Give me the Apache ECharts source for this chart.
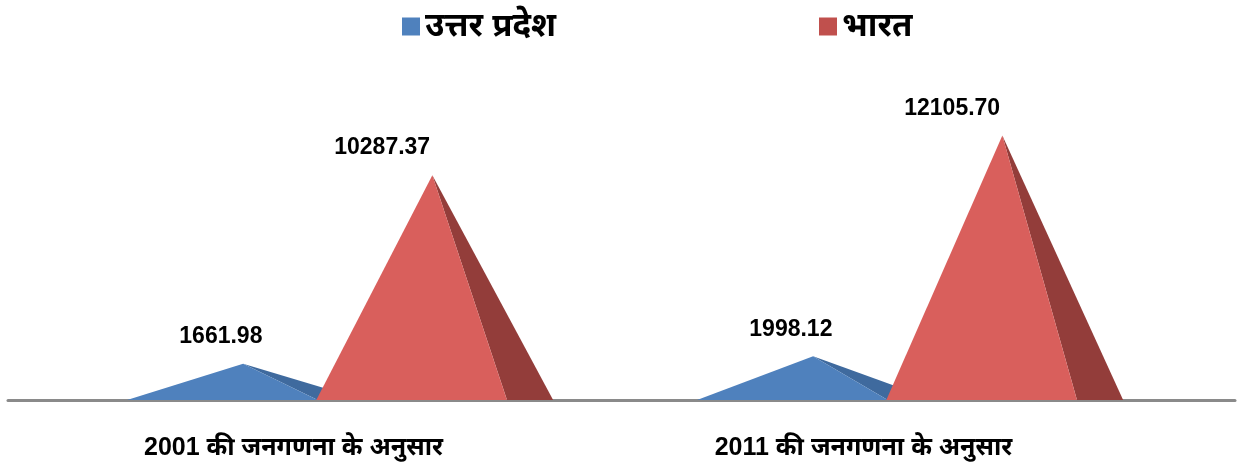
<!DOCTYPE html>
<html>
<head>
<meta charset="utf-8">
<script src="https://cdn.jsdelivr.net/npm/echarts@6/dist/echarts.min.js"></script>
<style>html,body{margin:0;padding:0;background:#fff;}#c{width:1238px;height:465px;}</style>
</head>
<body>
<div id="c"></div>
<script>
const categories = ['2001 की जनगणना के अनुसार', '2011 की जनगणना के अनुसार'];
const seriesNames = ['उत्तर प्रदेश', 'भारत'];
const upValues = [1661.98, 1998.12];
const indiaValues = [10287.37, 12105.70];

const FRONT = ['#4F81BD', '#D95F5C'];
const SIDE = ['#3F6A9E', '#933D3A'];
const LEGEND_COL = ['#4F81BD', '#C0504D'];
const OFFSET = [-0.292, 0.04];     // front-left corner, fraction of band
const LABEL_DX = [-0.039, -0.088];
const W_FR = 0.3345, D_FR = 0.081;

function renderPyramid(params, api) {
  const si = params.seriesIndex;
  const cat = api.value(0), val = api.value(1);
  const base = api.coord([cat, 0]);
  const top = api.coord([cat, val]);
  const band = api.size([1, 0])[0];
  const L = base[0] + band * OFFSET[si];
  const W = band * W_FR, D = band * D_FR;
  const ax = L + (W + D) * 0.49, ay = top[1];
  const by = base[1];
  return {
    type: 'group',
    children: [
      { type: 'polygon', shape: { points: [[L + W, by], [L + W + D, by], [ax, ay]] }, style: { fill: SIDE[si] } },
      { type: 'polygon', shape: { points: [[L, by], [L + W, by], [ax, ay]] }, style: { fill: FRONT[si] } },
      { type: 'text', x: ax + band * LABEL_DX[si], y: ay - 27,
        style: { text: val.toFixed(2), fill: '#000', font: 'bold 23px "Liberation Sans", Arial, sans-serif', align: 'center', verticalAlign: 'middle' } }
    ]
  };
}

const chart = echarts.init(document.getElementById('c'));
chart.setOption({
  animation: false,
  backgroundColor: '#fff',
  textStyle: { fontFamily: '"Liberation Sans", "Noto Sans", sans-serif' },
  legend: [
    { data: [seriesNames[0]], left: 397, top: 5, icon: 'rect', itemWidth: 18, itemHeight: 18, itemGap: 8,
      textStyle: { fontSize: 33, fontWeight: 'bold', color: '#000' } },
    { data: [seriesNames[1]], left: 814, top: 5, icon: 'rect', itemWidth: 18, itemHeight: 18, itemGap: 8,
      textStyle: { fontSize: 33, fontWeight: 'bold', color: '#000' } }
  ],
  grid: [
    { left: 8.5, right: 89.5, top: 94, bottom: 65 },
    { left: 8, right: 3, top: 94, bottom: 65 }
  ],
  xAxis: [
    { type: 'category', gridIndex: 0, data: categories, axisLine: { show: false }, axisTick: { show: false },
      axisLabel: { margin: 36, fontSize: 25, fontWeight: 'bold', color: '#000', interval: 0 } },
    { type: 'category', gridIndex: 1, data: categories, axisLine: { show: true, lineStyle: { color: '#8a8a8a', width: 3 } },
      axisTick: { show: false }, axisLabel: { show: false } }
  ],
  yAxis: [
    { type: 'value', gridIndex: 0, min: 0, max: 14000, show: false },
    { type: 'value', gridIndex: 1, min: 0, max: 14000, show: false }
  ],
  series: [
    { name: seriesNames[0], type: 'custom', xAxisIndex: 0, yAxisIndex: 0, color: LEGEND_COL[0],
      renderItem: renderPyramid, data: upValues.map((v, i) => [i, v]) },
    { name: seriesNames[1], type: 'custom', xAxisIndex: 0, yAxisIndex: 0, color: LEGEND_COL[1],
      renderItem: renderPyramid, data: indiaValues.map((v, i) => [i, v]) }
  ]
});
</script>
</body>
</html>
